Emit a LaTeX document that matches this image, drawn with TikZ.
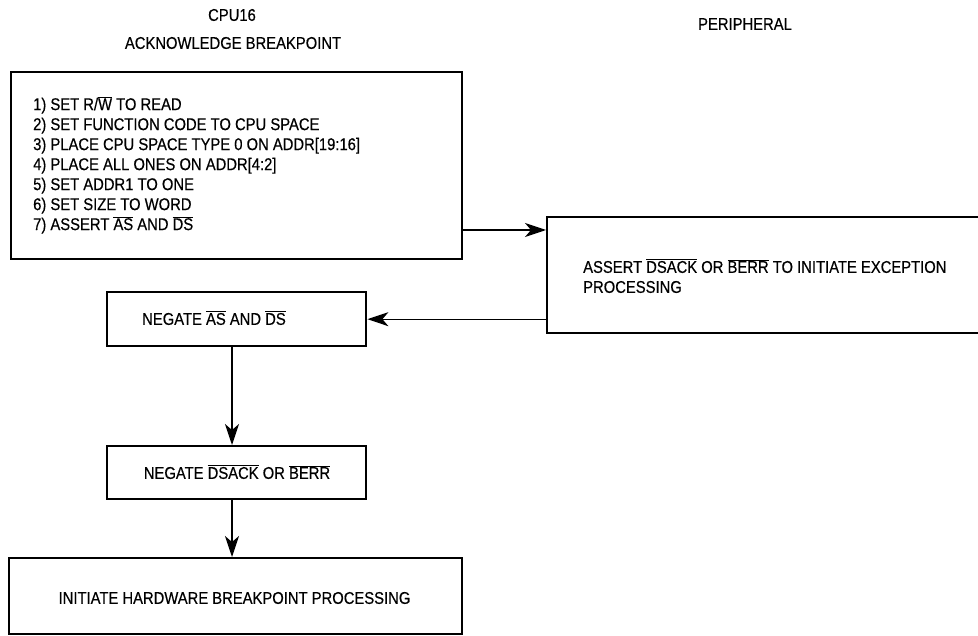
\documentclass[tikz,border=0pt]{standalone}
\usepackage{fontspec}
\setmainfont{Liberation Sans}[FakeStretch=0.87,FakeBold=0.4]
\usetikzlibrary{arrows.meta}
\newcommand\ovl[1]{\ensuremath{\overline{\mbox{#1}}}}
\begin{document}
\begin{tikzpicture}[x=1pt,y=-1pt,
  box/.style={draw, line width=2.4pt, inner sep=0pt, anchor=north west},
  txt/.style={font=\fontsize{17}{20}\selectfont, inner sep=0pt},
  arr/.style={line width=1.2pt, -{Stealth[length=21pt,width=14pt,inset=6pt]}}]
\useasboundingbox (0,0) rectangle (978,636);
\clip (0,0) rectangle (978,636);
\node[txt] (cpu) at (232,15) {CPU16};
\node[txt] (ack) at (233,43) {ACKNOWLEDGE BREAKPOINT};
\node[txt] (per) at (745,24) {PERIPHERAL};
\node[box, minimum width=451pt, minimum height=187pt] (top) at (10,71) {};
\node[txt, align=left, anchor=west] (toptext) at (33,165) {1) SET R/\ovl{W} TO READ\\
2) SET FUNCTION CODE TO CPU SPACE\\
3) PLACE CPU SPACE TYPE 0 ON ADDR[19:16]\\
4) PLACE ALL ONES ON ADDR[4:2]\\
5) SET ADDR1 TO ONE\\
6) SET SIZE TO WORD\\
7) ASSERT \ovl{AS} AND \ovl{DS}};
\node[box, minimum width=450pt, minimum height=116pt] (periph) at (546,216) {};
\node[txt, align=left, anchor=west] (ptext) at (583,276) {ASSERT \ovl{DSACK} OR \ovl{BERR} TO INITIATE EXCEPTION\\PROCESSING};
\node[box, minimum width=259pt, minimum height=54pt] (nas) at (106,291) {};
\node[txt, anchor=west] (nastext) at (142,318) {NEGATE \ovl{AS} AND \ovl{DS}};
\node[box, minimum width=259pt, minimum height=53pt] (dsk) at (106,445) {};
\node[txt] (dsktext) at (237,472) {NEGATE \ovl{DSACK} OR \ovl{BERR}};
\node[box, minimum width=453pt, minimum height=76pt] (fin) at (8,557) {};
\node[txt] (fintext) at (234.5,598) {INITIATE HARDWARE BREAKPOINT PROCESSING};
\coordinate (ax) at (232,0);
\coordinate (ay) at (0,230);
\draw[arr] (top.east |- ay) -- (periph.west |- ay);
\draw[arr] (periph.west |- nas.east) -- (nas.east);
\draw[arr] (nas.south -| ax) -- (dsk.north -| ax);
\draw[arr] (dsk.south -| ax) -- (fin.north -| ax);
\end{tikzpicture}
\end{document}
